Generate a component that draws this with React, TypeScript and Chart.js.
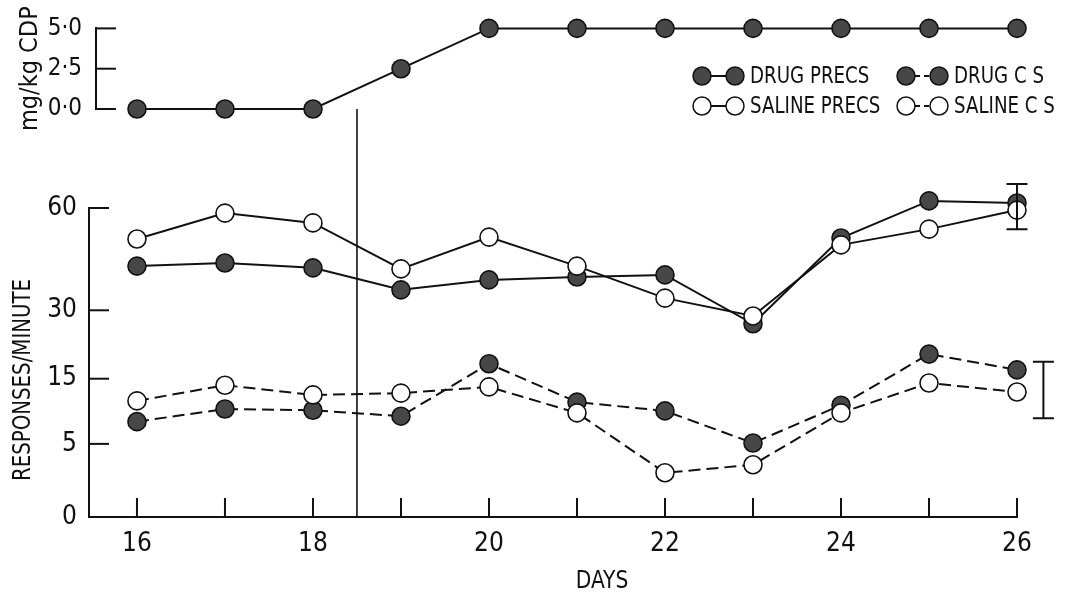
import React, { useEffect, useRef } from 'react';
import { Chart, registerables, LinearScale } from 'chart.js';

// ---------- data ----------
const DAYS = [16, 17, 18, 19, 20, 21, 22, 23, 24, 25, 26];
const CDP_DOSE = [0, 0, 0, 2.5, 5, 5, 5, 5, 5, 5, 5];
const DRUG_PRECS = [41.9, 42.8, 41.4, 35.3, 38.0, 38.8, 39.4, 26.7, 50.3, 62.4, 61.7];
const SALINE_PRECS = [50.0, 58.3, 55.1, 41.1, 50.6, 41.9, 33.1, 28.6, 48.2, 53.1, 59.3];
const DRUG_CS = [7.9, 9.8, 9.6, 8.7, 17.9, 10.9, 9.5, 5.1, 10.4, 19.9, 16.7];
const SALINE_CS = [11.1, 13.8, 12.1, 12.4, 13.5, 9.2, 2.1, 2.8, 9.2, 14.2, 12.6];
const ERR_PRECS_DAY = 26;
const ERR_PRECS = [53.1, 68.3];
const ERR_CS_DAY = 26.3;
const ERR_CS = [8.4, 18.3];
const PHASE_DAY = 18.5;
const RESP_TICKS = [0, 5, 15, 30, 60];
const DOSE_TICKS = [0, 2.5, 5];
const LABEL_TICK_DAYS = [16, 18, 20, 22, 24, 26];
const LEGEND_LABELS = ['DRUG PRECS', 'DRUG C S', 'SALINE PRECS', 'SALINE C S'];
const Y_TITLE_TOP = 'mg/kg CDP';
const Y_TITLE_BOTTOM = 'RESPONSES/MINUTE';
const X_TITLE = 'DAYS';

// ---------- style ----------
const INK = '#111111';
const DARK = '#474747';
const FONT = "'Liberation Sans Narrow', 'DejaVu Sans Condensed', 'Arial Narrow', sans-serif";
const Y_EXPONENT = 0.58;

Chart.register(...registerables);

class PowerScale extends LinearScale {
  static id = 'power';
  static defaults = { ticks: { callback: (v: any) => String(v) } };
  getPixelForValue(value: number) {
    const lo = Math.pow(this.min, Y_EXPONENT);
    const hi = Math.pow(this.max, Y_EXPONENT);
    const t = (Math.pow(Math.max(0, value), Y_EXPONENT) - lo) / (hi - lo);
    return this.getPixelForDecimal(t);
  }
  getValueForPixel(pixel: number) {
    const lo = Math.pow(this.min, Y_EXPONENT);
    const hi = Math.pow(this.max, Y_EXPONENT);
    const d = this.getDecimalForPixel(pixel);
    return Math.pow(Math.max(0, lo + d * (hi - lo)), 1 / Y_EXPONENT);
  }
}
Chart.register(PowerScale as any);

const innerTicks = {
  id: 'innerTicks',
  beforeDatasetsDraw(chart: any, _a: any, opts: any) {
    const ctx = chart.ctx;
    const area = chart.chartArea;
    ctx.save();
    ctx.strokeStyle = INK;
    ctx.lineWidth = 2;
    for (const spec of opts.axes || []) {
      const scale = chart.scales[spec.id];
      for (const t of scale.ticks) {
        if (spec.skip && spec.skip.includes(t.value)) continue;
        const p = scale.getPixelForValue(t.value);
        ctx.beginPath();
        if (scale.isHorizontal()) {
          ctx.moveTo(p, area.bottom);
          ctx.lineTo(p, area.bottom - spec.length);
        } else {
          ctx.moveTo(area.left, p);
          ctx.lineTo(area.left + spec.length, p);
        }
        ctx.stroke();
      }
    }
    ctx.restore();
  },
};

const phaseLine = {
  id: 'phaseLine',
  beforeDatasetsDraw(chart: any, _a: any, opts: any) {
    if (opts.day == null) return;
    const ctx = chart.ctx;
    const x = chart.scales.x.getPixelForValue(opts.day);
    const area = chart.chartArea;
    ctx.save();
    ctx.strokeStyle = INK;
    ctx.lineWidth = 1.6;
    ctx.beginPath();
    if (opts.mode === 'up') {
      ctx.moveTo(x, area.bottom);
      ctx.lineTo(x, 0);
    } else {
      ctx.moveTo(x, area.bottom);
      ctx.lineTo(x, chart.height);
    }
    ctx.stroke();
    ctx.restore();
  },
};

const errorBars = {
  id: 'errorBars',
  afterDatasetsDraw(chart: any, _a: any, opts: any) {
    const ctx = chart.ctx;
    ctx.save();
    ctx.strokeStyle = INK;
    ctx.lineWidth = 2;
    for (const b of opts.bars || []) {
      const x = chart.scales.x.getPixelForValue(b.x);
      const y1 = chart.scales.y.getPixelForValue(b.lo);
      const y2 = chart.scales.y.getPixelForValue(b.hi);
      ctx.beginPath();
      ctx.moveTo(x, y1);
      ctx.lineTo(x, y2);
      ctx.moveTo(x - opts.cap, y1);
      ctx.lineTo(x + opts.cap, y1);
      ctx.moveTo(x - opts.cap, y2);
      ctx.lineTo(x + opts.cap, y2);
      ctx.stroke();
    }
    ctx.restore();
  },
};

const freeTexts = {
  id: 'freeTexts',
  afterDraw(chart: any, _a: any, opts: any) {
    const ctx = chart.ctx;
    for (const t of opts.items || []) {
      ctx.save();
      ctx.fillStyle = INK;
      ctx.font = `${t.size}px ${FONT}`;
      ctx.textAlign = 'center';
      ctx.textBaseline = 'middle';
      ctx.translate(t.x, t.y);
      if (t.rotate) ctx.rotate(t.rotate);
      if (t.squeeze) ctx.scale(t.squeeze, 1);
      ctx.fillText(t.text, 0, 0);
      ctx.restore();
    }
  },
};

const pairLegend = {
  id: 'pairLegend',
  afterDraw(chart: any, _a: any, opts: any) {
    const ctx = chart.ctx;
    ctx.save();
    for (const it of opts.items || []) {
      const y = it.y;
      ctx.strokeStyle = INK;
      ctx.lineWidth = 2;
      ctx.setLineDash(it.dash ? [5, 4] : []);
      ctx.beginPath();
      ctx.moveTo(it.x, y);
      ctx.lineTo(it.x + opts.gap, y);
      ctx.stroke();
      ctx.setLineDash([]);
      for (const cx of [it.x, it.x + opts.gap]) {
        ctx.beginPath();
        ctx.arc(cx, y, opts.radius, 0, Math.PI * 2);
        ctx.fillStyle = it.fill;
        ctx.fill();
        ctx.lineWidth = 1.5;
        ctx.stroke();
      }
      ctx.save();
      ctx.fillStyle = INK;
      ctx.font = `${opts.size}px ${FONT}`;
      ctx.textAlign = 'left';
      ctx.textBaseline = 'middle';
      ctx.translate(it.x + opts.gap + opts.textGap, y + 1);
      ctx.scale(opts.squeeze, 1);
      ctx.fillText(it.text, 0, 0);
      ctx.restore();
    }
    ctx.restore();
  },
};

const pts = (ys: number[]) => DAYS.map((d, i) => ({ x: d, y: ys[i] }));

function series(label: string, ys: number[], filled: boolean, dashed: boolean, order: number) {
  return {
    label,
    data: pts(ys),
    borderColor: INK,
    borderWidth: 2,
    borderDash: dashed ? [12, 6] : [],
    pointRadius: 9,
    pointBorderWidth: 1.6,
    pointBorderColor: INK,
    pointBackgroundColor: filled ? DARK : '#ffffff',
    pointHoverRadius: 9,
    tension: 0,
    clip: false as const,
    order,
  };
}

function topConfig(): any {
  return {
    type: 'line',
    data: {
      datasets: [
        {
          label: Y_TITLE_TOP,
          data: pts(CDP_DOSE),
          borderColor: INK,
          borderWidth: 2,
          pointRadius: 9,
          pointBorderWidth: 1.6,
          pointBorderColor: INK,
          pointBackgroundColor: DARK,
          clip: false,
        },
      ],
    },
    options: {
      responsive: false,
      animation: false,
      devicePixelRatio: 1,
      events: [],
      layout: { padding: { top: 25, right: 73, bottom: 31, left: 0 } },
      scales: {
        x: { type: 'linear', display: false, min: 15.534, max: 26 },
        y: {
          type: 'linear',
          min: 0,
          max: 5,
          afterBuildTicks: (s: any) => {
            s.ticks = DOSE_TICKS.map((v) => ({ value: v }));
          },
          afterFit: (s: any) => {
            s.width = 96;
          },
          ticks: {
            callback: (v: any) => Number(v).toFixed(1).replace('.', '\u00b7'),
            padding: 14,
            color: INK,
            font: { family: FONT, size: 24 },
          },
          grid: { display: false, drawTicks: false },
          border: { display: true, color: INK, width: 2 },
          title: {
            display: true,
            text: Y_TITLE_TOP,
            color: INK,
            font: { family: FONT, size: 25 },
            padding: { top: 15, bottom: 0 },
          },
        },
      },
      plugins: {
        legend: { display: false },
        tooltip: { enabled: false },
        innerTicks: { axes: [{ id: 'y', length: 20 }] },
        phaseLine: { day: PHASE_DAY, mode: 'down' },
        pairLegend: {
          radius: 9,
          gap: 33,
          textGap: 15,
          size: 23,
          squeeze: 0.88,
          items: [
            { x: 702, y: 76, text: LEGEND_LABELS[0], fill: DARK, dash: false },
            { x: 906, y: 76, text: LEGEND_LABELS[1], fill: DARK, dash: true },
            { x: 702, y: 106, text: LEGEND_LABELS[2], fill: '#ffffff', dash: false },
            { x: 906, y: 106, text: LEGEND_LABELS[3], fill: '#ffffff', dash: true },
          ],
        },
      },
    },
    plugins: [innerTicks, phaseLine, pairLegend],
  };
}

function bottomConfig(): any {
  return {
    type: 'line',
    data: {
      datasets: [
        series(LEGEND_LABELS[0], DRUG_PRECS, true, false, 2),
        series(LEGEND_LABELS[2], SALINE_PRECS, false, false, 1),
        series(LEGEND_LABELS[1], DRUG_CS, true, true, 2),
        series(LEGEND_LABELS[3], SALINE_CS, false, true, 1),
      ],
    },
    options: {
      responsive: false,
      animation: false,
      devicePixelRatio: 1,
      events: [],
      layout: { padding: { top: 68, right: 73, bottom: 0, left: 0 } },
      scales: {
        x: {
          type: 'linear',
          min: 15.455,
          max: 26,
          afterBuildTicks: (s: any) => {
            s.ticks = DAYS.map((v) => ({ value: v }));
          },
          afterFit: (s: any) => {
            s.height = 79;
          },
          ticks: {
            autoSkip: false,
            maxRotation: 0,
            callback: (v: any) => (LABEL_TICK_DAYS.includes(Number(v)) ? String(v) : ''),
            padding: 12,
            color: INK,
            font: { family: FONT, size: 26 },
          },
          grid: { display: false, drawTicks: false },
          border: { display: true, color: INK, width: 2 },
        },
        y: {
          type: 'power',
          min: 0,
          max: 60,
          afterBuildTicks: (s: any) => {
            s.ticks = RESP_TICKS.map((v) => ({ value: v }));
          },
          afterFit: (s: any) => {
            s.width = 89;
          },
          ticks: {
            autoSkip: false,
            callback: (v: any) => String(v),
            padding: 12,
            color: INK,
            font: { family: FONT, size: 26 },
          },
          grid: { display: false, drawTicks: false },
          border: { display: true, color: INK, width: 2 },
        },
      },
      plugins: {
        legend: { display: false },
        tooltip: { enabled: false },
        innerTicks: {
          axes: [
            { id: 'x', length: 19 },
            { id: 'y', length: 20, skip: [0] },
          ],
        },
        phaseLine: { day: PHASE_DAY, mode: 'up' },
        errorBars: {
          cap: 10.5,
          bars: [
            { x: ERR_PRECS_DAY, lo: ERR_PRECS[0], hi: ERR_PRECS[1] },
            { x: ERR_CS_DAY, lo: ERR_CS[0], hi: ERR_CS[1] },
          ],
        },
        freeTexts: {
          items: [
            { text: Y_TITLE_BOTTOM, x: 23, y: 240, size: 25, rotate: -Math.PI / 2, squeeze: 0.88 },
            { text: X_TITLE, x: 602, y: 441, size: 25, squeeze: 0.9 },
          ],
        },
      },
    },
    plugins: [innerTicks, phaseLine, errorBars, freeTexts],
  };
}

export default function App() {
  const topRef = useRef<HTMLCanvasElement>(null);
  const botRef = useRef<HTMLCanvasElement>(null);
  useEffect(() => {
    const top = new Chart(topRef.current as HTMLCanvasElement, topConfig());
    const bot = new Chart(botRef.current as HTMLCanvasElement, bottomConfig());
    return () => {
      top.destroy();
      bot.destroy();
    };
  }, []);
  return (
    <div style={{ position: 'absolute', left: 0, top: 0, width: 1090, height: 596, background: '#ffffff' }}>
      <canvas
        ref={topRef}
        width={1090}
        height={140}
        style={{ position: 'absolute', left: 0, top: 0, width: 1090, height: 140 }}
      />
      <canvas
        ref={botRef}
        width={1090}
        height={456}
        style={{ position: 'absolute', left: 0, top: 140, width: 1090, height: 456 }}
      />
    </div>
  );
}
